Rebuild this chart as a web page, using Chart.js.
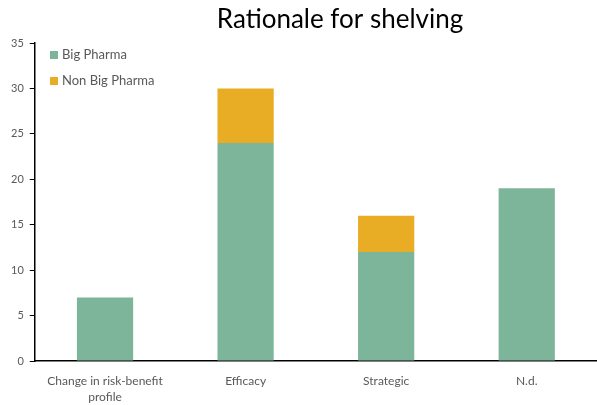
<!DOCTYPE html>
<html>
<head>
<meta charset="utf-8">
<script src="https://cdn.jsdelivr.net/npm/chart.js@4"></script>
<style>
  html, body { margin: 0; padding: 0; background: #fff; }
  #wrap { width: 597px; height: 405px; }
</style>
</head>
<body>
<div id="wrap"><canvas id="shelvingChart" width="597" height="405"></canvas></div>
<script>
"use strict";

let categories = [["Change in risk-benefit", "profile"], "Efficacy", "Strategic", "N.d."];
let bigPharma = [7, 24, 12, 19];
let nonBigPharma = [0, 6, 4, 0];
let yTicks = [0, 5, 10, 15, 20, 25, 30, 35];

const FONT = "Lato, 'Open Sans', sans-serif";
const GREY = "#595959";

// title + legend drawn by hand so they sit where the original has them
const overlayPlugin = {
  id: "overlay",
  afterDraw(chart) {
    const ctx = chart.ctx;
    ctx.save();
    ctx.fillStyle = "#000";
    ctx.font = "26px " + FONT;
    ctx.textAlign = "center";
    ctx.textBaseline = "middle";
    ctx.fillText("Rationale for shelving", 340, 20);

    // legend inside the plot, top left
    ctx.font = "13px " + FONT;
    ctx.textAlign = "left";
    chart.data.datasets.forEach(function(ds, i) {
      const y = 55 + i * 26;
      ctx.fillStyle = ds.backgroundColor;
      ctx.fillRect(50, y - 4, 8, 8);
      ctx.fillStyle = GREY;
      ctx.fillText(ds.label, 62, y);
    });
    ctx.restore();
  }
};

new Chart(document.getElementById("shelvingChart"), {
  type: "bar",
  data: {
    labels: categories,
    datasets: [
      {
        label: "Big Pharma",
        backgroundColor: "#7db59a",
        data: bigPharma
      },
      {
        label: "Non Big Pharma",
        backgroundColor: "#e8ad24",
        data: nonBigPharma
      }
    ]
  },
  plugins: [overlayPlugin],
  options: {
    responsive: false,
    animation: false,
    layout: { padding: { top: 43, left: 5, right: 0, bottom: 0 } },
    categoryPercentage: 1,
    barPercentage: 0.4,
    plugins: {
      title: { display: false },
      tooltip: { enabled: false },
      legend: { display: false }
    },
    scales: {
      x: {
        stacked: true,
        afterFit(axis) {
          axis.height = 44;
        },
        grid: { drawOnChartArea: false, drawTicks: false },
        border: { color: "#000", width: 1.5 },
        ticks: {
          color: GREY,
          padding: 12,
          maxRotation: 0,
          autoSkip: false,
          font: { family: FONT, size: 12, lineHeight: 1.35 }
        }
      },
      y: {
        stacked: true,
        min: 0,
        max: 35,
        afterBuildTicks(axis) {
          axis.ticks = yTicks.map(v => ({ value: v }));
        },
        grid: { drawOnChartArea: false, drawTicks: true, tickLength: 5, color: "#000" },
        border: { color: "#000", width: 1.5 },
        ticks: {
          color: GREY,
          padding: 6,
          font: { family: FONT, size: 11 }
        }
      }
    }
  }
});
</script>
</body>
</html>
